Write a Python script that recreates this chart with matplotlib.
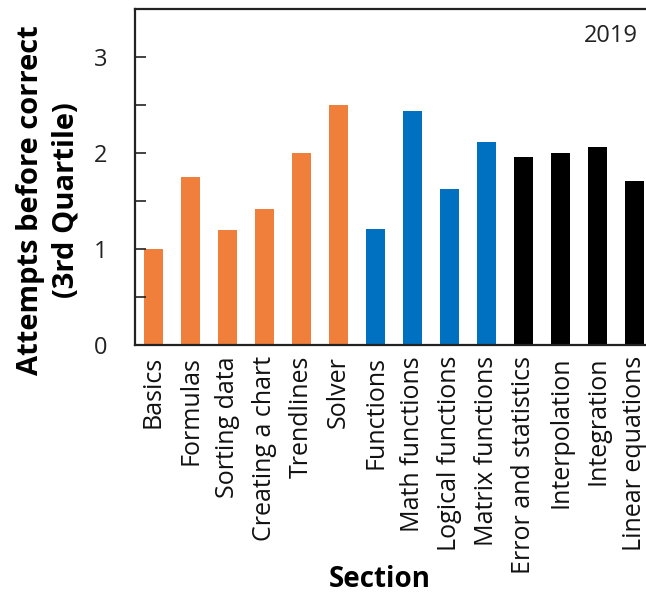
import numpy as np
import matplotlib
matplotlib.use('Agg')
import matplotlib.pyplot as plt

# 数据
sections = ['Basics', 'Formulas', 'Sorting data', 'Creating a chart', 'Trendlines',
            'Solver', 'Functions', 'Math functions', 'Logical functions',
            'Matrix functions', 'Error and statistics', 'Interpolation',
            'Integration', 'Linear equations']
attempts_q3 = [1.0, 1.75, 1.2, 1.42, 2.0, 2.5, 1.21, 2.44, 1.62, 2.11,
               1.96, 2.0, 2.06, 1.71]
groups = ['basic'] * 6 + ['func'] * 4 + ['num'] * 4
group_colors = {'basic': '#F07F3C', 'func': '#0070C0', 'num': '#000000'}
year_label = '2019'

plt.rcParams['font.family'] = ['Open Sans', 'DejaVu Sans']

W, H = 646, 595
fig = plt.figure(figsize=(W / 100, H / 100), dpi=100)
# 右边框超出画布（原图被裁切）
ax = fig.add_axes([135 / W, 1 - 345 / H, 518 / W, 336 / H])

x = np.arange(len(sections))
ax.bar(x, attempts_q3, width=0.51, color=[group_colors[g] for g in groups])

ax.set_xlim(-0.5, len(sections) - 0.5)
ax.set_ylim(0, 3.5)
ax.set_yticks(np.arange(0, 3.01, 0.5))
ax.set_yticklabels(['0', '', '1', '', '2', '', '3'])
ax.tick_params(axis='y', direction='in', length=8, width=1.2, labelsize=17,
               pad=20, colors='#222222')
ax.set_xticks(x)
ax.set_xticklabels(sections, rotation=90, fontsize=18, color='#111111')
ax.tick_params(axis='x', length=0, pad=8)

for s in ['left', 'bottom', 'top', 'right']:
    ax.spines[s].set_linewidth(1.6)
    ax.spines[s].set_color('#222222')

# 轴标题
fig.text(48 / W, 1 - 200 / H, 'Attempts before correct\n(3rd Quartile)',
         rotation=90, fontsize=21, fontweight='bold', ha='center', va='center',
         multialignment='center', linespacing=1.3)
fig.text(380 / W, 1 - 587 / H, 'Section', fontsize=20, fontweight='bold',
         ha='center', va='baseline')

fig.text(638 / W, 1 - 36 / H, year_label, fontsize=17, color='#222222',
         va='center', ha='right')

fig.savefig('out.png', dpi=100)
